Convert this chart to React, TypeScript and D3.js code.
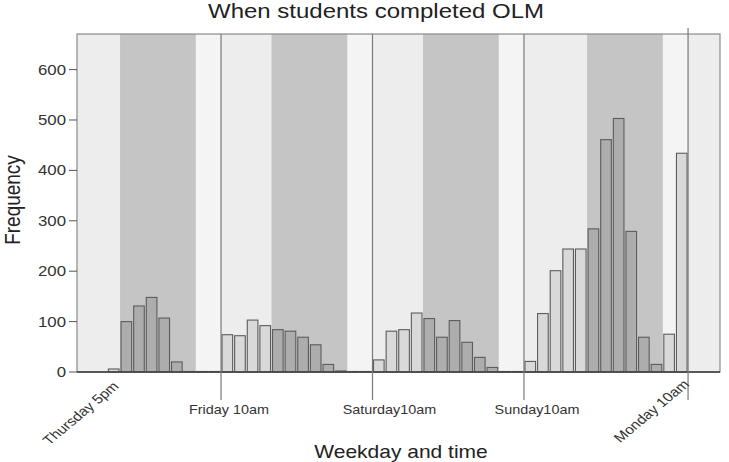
import * as React from "react";
import * as d3 from "d3";

// two-hour slots, slot 0 = Thursday 10am
const firstSlot = 3;
const frequency = [
  6, 100, 131, 148, 107, 20, 1, 1, 1, // Thursday 4pm ->
  74, 72, 103, 92, 84, 81, 69, 54, 15, 2, 1, 1, // Friday 10am ->
  24, 81, 84, 117, 106, 69, 102, 59, 29, 9, 1, 1, // Saturday 10am ->
  21, 116, 201, 244, 244, 284, 461, 503, 279, 69, 15, 75, 434, // Sunday 10am ->
];
const nightBands = [[4, 10], [16, 22], [28, 34], [41, 47]];
const morningBands = [[10, 12], [22, 24], [34, 36], [47, 49]];
const dayLabels = ["Friday 10am", "Saturday10am", "Sunday10am"];
const daySlots = [12, 24, 36];
const rotatedLabels = ["Thursday 5pm", "Monday 10am"];
const rotatedSlots = [3.5, 49];
const yTicks = [0, 100, 200, 300, 400, 500, 600];

const W = 729;
const H = 462;
const m = { left: 77, right: 720, top: 34, bottom: 372 };
const sx = 1.2; // text in the picture is stretched horizontally
const font = "'Liberation Sans', Arial, sans-serif";

function drawChart(svgRef: React.RefObject<SVGSVGElement>) {
  const svg = d3.select(svgRef.current);
  svg.selectAll("*").remove();
  svg.attr("width", W).attr("height", H).style("background", "#fff");

  const x = d3.scaleLinear().domain([0.59, 51.53]).range([m.left, m.right]);
  const y = d3.scaleLinear().domain([0, 670.6]).range([m.bottom, m.top]);
  const pitch = x(1) - x(0);

  const isNight = (s: number) => nightBands.some(([a, b]) => s >= a && s < b);

  // plot background
  svg.append("rect")
    .attr("x", m.left).attr("y", m.top)
    .attr("width", m.right - m.left).attr("height", m.bottom - m.top)
    .attr("fill", "#ededed");

  svg.selectAll(".morning")
    .data(morningBands)
    .join("rect")
    .attr("x", (d) => x(d[0]))
    .attr("y", m.top)
    .attr("width", (d) => x(d[1]) - x(d[0]))
    .attr("height", m.bottom - m.top)
    .attr("fill", "#f4f4f4");

  svg.selectAll(".night")
    .data(nightBands)
    .join("rect")
    .attr("x", (d) => x(d[0]))
    .attr("y", m.top)
    .attr("width", (d) => x(d[1]) - x(d[0]))
    .attr("height", m.bottom - m.top)
    .attr("fill", "#c5c5c5");

  // bars
  svg.append("g")
    .selectAll("rect")
    .data(frequency)
    .join("rect")
    .attr("x", (v, i) => x(firstSlot + i) + 1)
    .attr("y", (v) => y(v))
    .attr("width", pitch - 2)
    .attr("height", (v) => m.bottom - y(v))
    .attr("fill", (v, i) => (isNight(firstSlot + i) ? "#adadad" : "#d9d9d9"))
    .attr("stroke", "#5c5c5c")
    .attr("stroke-width", 1.1);

  // frame and baseline
  svg.append("rect")
    .attr("x", m.left).attr("y", m.top)
    .attr("width", m.right - m.left).attr("height", m.bottom - m.top)
    .attr("fill", "none").attr("stroke", "#8a8a8a").attr("stroke-width", 1.2);
  svg.append("line")
    .attr("x1", m.left).attr("x2", m.right)
    .attr("y1", m.bottom).attr("y2", m.bottom)
    .attr("stroke", "#3a3a3a").attr("stroke-width", 1.5);

  // day marker lines
  svg.selectAll(".dayline")
    .data(daySlots)
    .join("line")
    .attr("x1", (d) => x(d)).attr("x2", (d) => x(d))
    .attr("y1", m.top).attr("y2", 400)
    .attr("stroke", "#7a7a7a").attr("stroke-width", 1.2);
  svg.append("line")
    .attr("x1", x(rotatedSlots[1])).attr("x2", x(rotatedSlots[1]))
    .attr("y1", 28).attr("y2", 400)
    .attr("stroke", "#7a7a7a").attr("stroke-width", 1.2);

  // y axis
  const yAxis = svg.append("g");
  yAxis.selectAll("line")
    .data(yTicks)
    .join("line")
    .attr("x1", m.left - 8).attr("x2", m.left)
    .attr("y1", (d) => y(d)).attr("y2", (d) => y(d))
    .attr("stroke", "#555");
  yAxis.selectAll("text")
    .data(yTicks)
    .join("text")
    .attr("transform", (d) => `translate(66,${y(d) + 5}) scale(${sx},1)`)
    .attr("text-anchor", "end")
    .attr("font-family", font).attr("font-size", 14).attr("fill", "#333")
    .text((d) => d);

  // day labels
  svg.selectAll(".daylabel")
    .data(dayLabels)
    .join("text")
    .attr("transform", (d, i) => `translate(${x(daySlots[i]) + [8, 17, 13][i]},414) scale(${sx},1)`)
    .attr("text-anchor", "middle")
    .attr("font-family", font).attr("font-size", 12).attr("fill", "#333")
    .text((d) => d);

  svg.selectAll(".rotlabel")
    .data(rotatedLabels)
    .join("text")
    .attr("transform", (d, i) => `translate(${x(rotatedSlots[i]) + [6, 2][i]},${[387, 385][i]}) scale(${sx},1) rotate(-45)`)
    .attr("text-anchor", "end")
    .attr("font-family", font).attr("font-size", 13).attr("fill", "#333")
    .text((d) => d);

  // titles
  svg.append("text")
    .attr("transform", `translate(376,18) scale(${sx},1)`)
    .attr("text-anchor", "middle")
    .attr("font-family", font).attr("font-size", 20).attr("fill", "#222")
    .text("When students completed OLM");
  svg.append("text")
    .attr("transform", `translate(401,458) scale(${sx},1)`)
    .attr("text-anchor", "middle")
    .attr("font-family", font).attr("font-size", 17.5).attr("fill", "#222")
    .text("Weekday and time");
  svg.append("text")
    .attr("transform", `translate(20,200) scale(${sx},1) rotate(-90)`)
    .attr("text-anchor", "middle")
    .attr("font-family", font).attr("font-size", 19).attr("fill", "#222")
    .text("Frequency");
}

const App: React.FunctionComponent = () => {
  const svg = React.useRef<SVGSVGElement>(null);
  React.useEffect(() => {
    drawChart(svg);
  }, [svg]);

  return (
    <div id="chart" style={{ position: "absolute", left: 0, top: 0 }}>
      <svg ref={svg} style={{ display: "block" }} />
    </div>
  );
};

export default App;
